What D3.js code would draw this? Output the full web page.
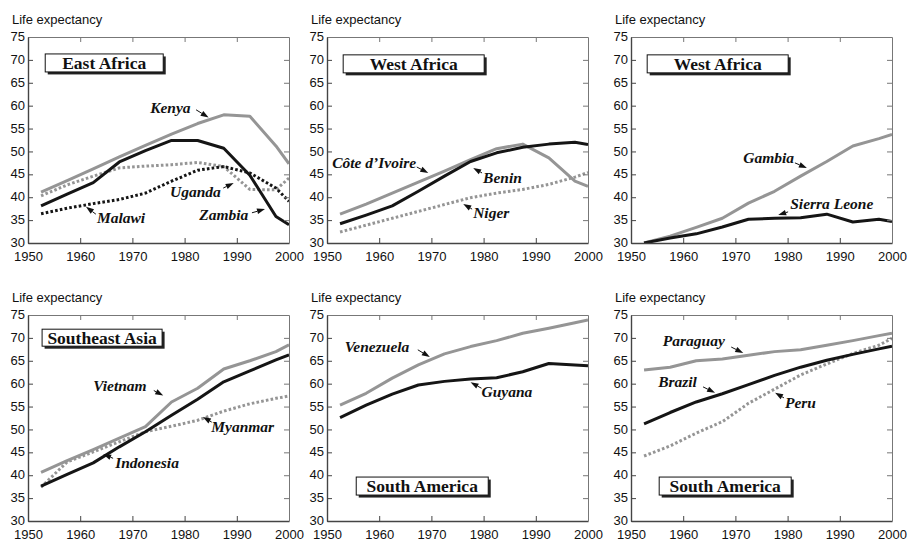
<!DOCTYPE html>
<html>
<head>
<meta charset="utf-8">
<script src="https://cdn.jsdelivr.net/npm/d3@7"></script>
<style>
  body { margin: 0; background: #fff; }
  svg { display: block; }
</style>
</head>
<body>
<svg width="907" height="542"></svg>
<script>
// five-year midpoints, last point at the frame edge
var years = [1952.5, 1957.5, 1962.5, 1967.5, 1972.5, 1977.5, 1982.5, 1987.5, 1992.5, 1997.5, 2000];

var kenya    = [41.1, 43.6, 46.2, 48.8, 51.3, 53.8, 56.1, 58.0, 57.7, 51.2, 47.3];
var zambia   = [38.1, 40.7, 43.2, 47.7, 50.2, 52.4, 52.4, 50.7, 44.8, 35.8, 34.0];
var uganda   = [40.3, 42.7, 44.6, 46.4, 46.8, 47.1, 47.6, 46.7, 41.7, 41.6, 44.2];
var malawi   = [36.4, 37.6, 38.6, 39.5, 40.9, 43.5, 45.9, 46.7, 45.3, 42.0, 39.1];

var benin    = [34.2, 36.1, 38.1, 41.3, 44.6, 47.8, 49.7, 50.9, 51.6, 52.0, 51.5];
var coteIv   = [36.3, 38.5, 40.9, 43.3, 45.7, 48.2, 50.6, 51.6, 48.6, 43.5, 42.4];
var niger    = [32.4, 33.9, 35.4, 36.9, 38.4, 39.9, 40.9, 41.7, 42.8, 44.4, 45.4];

var gambia   = [30.0, 31.5, 33.4, 35.4, 38.7, 41.3, 44.6, 47.8, 51.2, 52.8, 53.7];
var sierraL  = [30.0, 31.1, 32.0, 33.5, 35.2, 35.4, 35.5, 36.3, 34.6, 35.2, 34.7];

var vietnam  = [40.6, 43.2, 45.6, 48.1, 50.6, 56.0, 59.0, 63.2, 65.0, 67.0, 68.5];
var indonesia= [37.6, 40.2, 42.7, 46.2, 49.5, 53.1, 56.6, 60.4, 62.8, 65.2, 66.3];
var myanmar  = [37.4, 42.9, 45.1, 47.3, 49.5, 50.7, 52.0, 54.0, 55.6, 56.8, 57.3];

var venezuela= [55.3, 57.9, 61.2, 64.1, 66.5, 68.1, 69.4, 71.0, 72.1, 73.3, 73.9];
var guyana   = [52.6, 55.3, 57.7, 59.7, 60.5, 61.0, 61.3, 62.6, 64.4, 64.1, 63.9];

var paraguay = [63.0, 63.6, 65.0, 65.4, 66.2, 67.0, 67.4, 68.4, 69.4, 70.5, 71.0];
var brazil   = [51.2, 53.7, 56.0, 57.8, 59.8, 61.8, 63.6, 65.1, 66.4, 67.6, 68.2];
var peru     = [44.2, 46.4, 49.2, 51.7, 55.7, 58.8, 61.9, 64.3, 66.6, 68.4, 69.9];

var xTicks = [1950, 1960, 1970, 1980, 1990, 2000];
var yTicks = [30, 35, 40, 45, 50, 55, 60, 65, 70, 75];
var yLabel = "Life expectancy";

var GRAY = "#959595", BLACK = "#151515";

// style per series kind
var kinds = {
  gray:       { color: GRAY,  dash: null },
  black:      { color: BLACK, dash: null },
  grayDot:    { color: GRAY,  dash: "2.6,2.2" },
  blackDot:   { color: BLACK, dash: "2.6,2.2" }
};

// panels: series, annotation labels (text start + arrow tail/head in data units), title box
var panels = [
  { left: 28, top: 37, title: "East Africa", box: [1953.3, 71.3, 118, 18],
    series: [[kenya, "gray"], [uganda, "grayDot"], [malawi, "blackDot"], [zambia, "black"]],
    labels: [
      ["Kenya",  1973.4, 58.4, [1982.2, 59.1], [1984.6, 57.4]],
      ["Malawi", 1963.2, 34.4, [1963.0, 36.3], [1961.1, 37.9]],
      ["Uganda", 1977.2, 40.0, [1987.4, 42.0], [1989.4, 43.1]],
      ["Zambia", 1982.8, 35.0, [1992.9, 36.6], [1995.4, 37.4]]
    ] },
  { left: 327, top: 37, title: "West Africa", box: [1953.1, 71.1, 141, 18],
    series: [[niger, "grayDot"], [coteIv, "gray"], [benin, "black"]],
    labels: [
      ["Côte d\u2019Ivoire", 1951.0, 46.4, [1967.2, 46.6], [1969.4, 45.3]],
      ["Benin", 1979.9, 43.1, [1979.7, 45.3], [1978.0, 46.4]],
      ["Niger", 1978.0, 35.5, [1977.8, 37.4], [1976.1, 38.5]]
    ] },
  { left: 631, top: 37, title: "West Africa", box: [1953.1, 71.1, 141, 18],
    series: [[gambia, "gray"], [sierraL, "black"]],
    labels: [
      ["Gambia", 1971.5, 47.5, [1981.4, 47.5], [1983.7, 46.4]],
      ["Sierra Leone", 1980.5, 37.4, [1980.1, 36.8], [1978.2, 36.1]]
    ] },
  { left: 28, top: 315, title: "Southeast Asia", box: [1952.7, 71.9, 120, 17],
    series: [[myanmar, "grayDot"], [vietnam, "gray"], [indonesia, "black"]],
    labels: [
      ["Vietnam", 1962.5, 58.3, [1974.1, 58.5], [1975.9, 57.4]],
      ["Myanmar", 1985.1, 49.4, [1985.2, 51.6], [1983.5, 52.7]],
      ["Indonesia", 1966.7, 41.5, [1966.3, 43.7], [1964.4, 44.6]]
    ] },
  { left: 327, top: 315, title: "South America", box: [1955.6, 39.6, 132, 18],
    series: [[venezuela, "gray"], [guyana, "black"]],
    labels: [
      ["Venezuela", 1953.4, 66.9, [1967.4, 67.4], [1969.7, 65.8]],
      ["Guyana", 1979.6, 57.1, [1979.6, 59.0], [1977.5, 60.3]]
    ] },
  { left: 631, top: 315, title: "South America", box: [1955.4, 39.6, 132, 18],
    series: [[paraguay, "gray"], [peru, "grayDot"], [brazil, "black"]],
    labels: [
      ["Paraguay", 1956.1, 68.2, [1969.2, 68.0], [1971.5, 66.7]],
      ["Brazil", 1955.2, 59.3, [1963.8, 59.3], [1966.1, 58.0]],
      ["Peru", 1979.5, 54.7, [1979.3, 56.9], [1977.6, 58.0]]
    ] }
];

var W = 261, H = 206;
var svg = d3.select("svg");

panels.forEach(function (p, pi) {
  var g = svg.append("g").attr("transform", "translate(" + p.left + "," + p.top + ")");
  var x = d3.scaleLinear().domain([1950, 2000]).range([0, W]);
  var y = d3.scaleLinear().domain([30, 75]).range([H, 0]);

  g.append("text")
    .attr("x", -16).attr("y", -13)
    .attr("font-family", "Liberation Sans, Arial, sans-serif")
    .attr("font-size", 13).attr("fill", "#111")
    .text(yLabel);

  var clipId = "clip" + pi;
  g.append("clipPath").attr("id", clipId)
    .append("rect").attr("x", 0).attr("y", 0).attr("width", W).attr("height", H);

  var line = d3.line()
    .x(function (d, i) { return x(years[i]); })
    .y(function (d) { return y(d); });

  var lines = g.append("g").attr("clip-path", "url(#" + clipId + ")");
  p.series.forEach(function (s) {
    var k = kinds[s[1]];
    lines.append("path")
      .attr("d", line(s[0]))
      .attr("fill", "none")
      .attr("stroke", k.color)
      .attr("stroke-width", 3)
      .attr("stroke-linejoin", "round")
      .attr("stroke-dasharray", k.dash);
  });

  // axes: all ticks point inward
  var font = "Liberation Sans, Arial, sans-serif";
  var left = g.append("g")
    .call(d3.axisLeft(y).tickValues(yTicks).tickSizeInner(-5).tickSizeOuter(0).tickPadding(3));
  left.selectAll(".tick text").attr("dy", "0.28em");
  var bottom = g.append("g").attr("transform", "translate(0," + H + ")")
    .call(d3.axisBottom(x).tickValues(xTicks).tickFormat(d3.format("d")).tickSizeInner(-5).tickSizeOuter(0).tickPadding(9));
  var top = g.append("g")
    .call(d3.axisTop(x).tickValues(xTicks.slice(1, -1)).tickFormat("").tickSizeInner(-5).tickSizeOuter(0));
  var right = g.append("g").attr("transform", "translate(" + W + ",0)")
    .call(d3.axisRight(y).tickValues(yTicks.slice(1, -1)).tickFormat("").tickSizeInner(-5).tickSizeOuter(0));

  [left, bottom].forEach(function (a) {
    a.select(".domain").attr("stroke", "#444").attr("stroke-width", 1.4);
    a.selectAll(".tick line").attr("stroke", "#444");
    a.selectAll("text").attr("font-family", font).attr("font-size", 13).attr("fill", "#111");
  });
  [top, right].forEach(function (a) {
    a.select(".domain").attr("stroke", "#777").attr("stroke-width", 1);
    a.selectAll(".tick line").attr("stroke", "#777");
  });

  // region title box with shadow
  var bx = x(p.box[0]), by = y(p.box[1]), bw = p.box[2], bh = p.box[3];
  g.append("rect").attr("x", bx + 2.5).attr("y", by + 2.5).attr("width", bw).attr("height", bh)
    .attr("fill", "#222");
  g.append("rect").attr("x", bx).attr("y", by).attr("width", bw).attr("height", bh)
    .attr("fill", "#fff").attr("stroke", "#111").attr("stroke-width", 1);
  g.append("text")
    .attr("x", bx + bw / 2).attr("y", by + bh / 2 + 6)
    .attr("text-anchor", "middle")
    .attr("font-family", "Liberation Serif, Times New Roman, serif")
    .attr("font-weight", "bold").attr("font-size", 17.5).attr("fill", "#111")
    .text(p.title);

  // country labels with arrows
  p.labels.forEach(function (l) {
    g.append("text")
      .attr("x", x(l[1])).attr("y", y(l[2]))
      .attr("font-family", "Liberation Serif, Times New Roman, serif")
      .attr("font-weight", "bold").attr("font-style", "italic")
      .attr("font-size", 15.5).attr("fill", "#111")
      .text(l[0]);
    var tx = x(l[3][0]), ty = y(l[3][1]), hx = x(l[4][0]), hy = y(l[4][1]);
    var ang = Math.atan2(hy - ty, hx - tx);
    var len = 8, half = 2.8;
    var bxp = hx - len * Math.cos(ang), byp = hy - len * Math.sin(ang);
    var nx = -Math.sin(ang) * half, ny = Math.cos(ang) * half;
    g.append("line")
      .attr("x1", tx).attr("y1", ty).attr("x2", bxp).attr("y2", byp)
      .attr("stroke", "#111").attr("stroke-width", 1);
    g.append("path")
      .attr("d", "M" + hx + "," + hy + "L" + (bxp + nx) + "," + (byp + ny) +
                 "L" + (bxp - nx) + "," + (byp - ny) + "Z")
      .attr("fill", "#111");
  });
});
</script>
</body>
</html>
